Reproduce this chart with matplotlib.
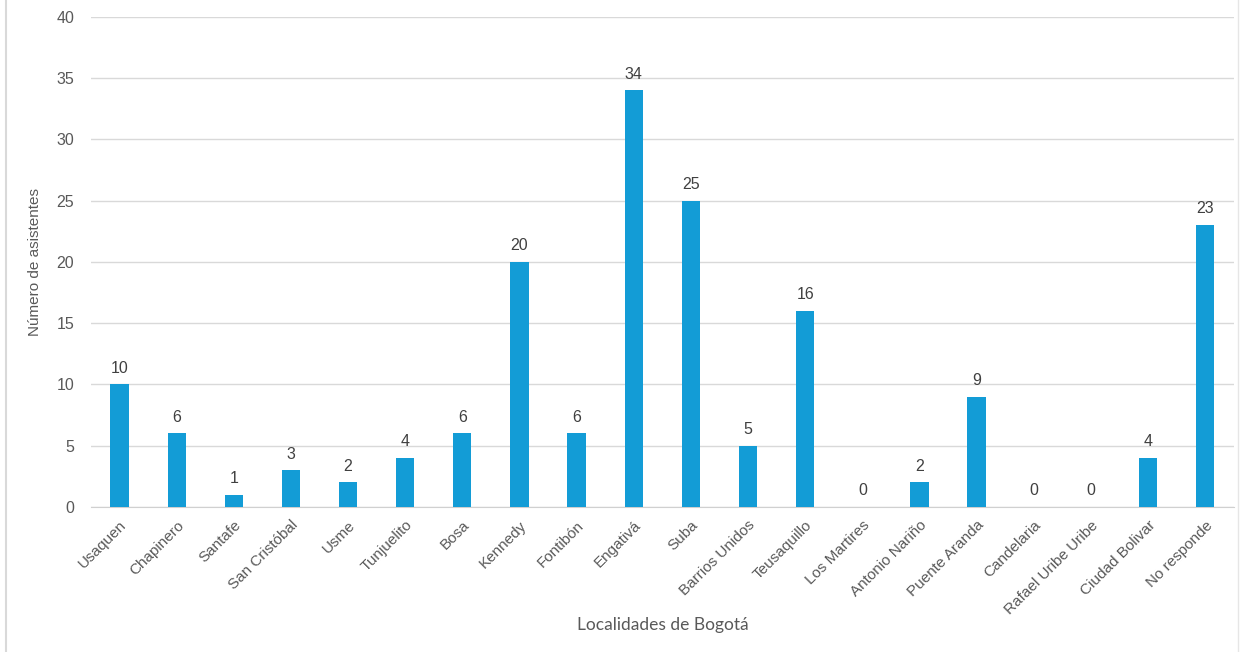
import matplotlib
matplotlib.use("Agg")
import matplotlib.pyplot as plt
from matplotlib.lines import Line2D

categories = ["Usaquen", "Chapinero", "Santafe", "San Cristóbal", "Usme", "Tunjuelito",
              "Bosa", "Kennedy", "Fontibón", "Engativá", "Suba", "Barrios Unidos",
              "Teusaquillo", "Los Martires", "Antonio Nariño", "Puente Aranda",
              "Candelaria", "Rafael Uribe Uribe", "Ciudad Bolivar", "No responde"]
values = [10, 6, 1, 3, 2, 4, 6, 20, 6, 34, 25, 5, 16, 0, 2, 9, 0, 0, 4, 23]
yticks = [0, 5, 10, 15, 20, 25, 30, 35, 40]

plt.rcParams['font.family'] = ['Liberation Sans', 'DejaVu Sans']

fig = plt.figure(figsize=(12.53, 6.52), dpi=100)
ax = fig.add_axes([0.0726, 0.2224, 0.912, 0.752])

x = list(range(len(categories)))
bars = ax.bar(x, values, width=0.32, color='#139CD6', zorder=3)
for xi, v in zip(x, values):
    ax.text(xi, v + 0.7, str(v), ha='center', va='bottom', fontsize=11.5, color='#404040')

ax.set_xlim(-0.5, len(categories) - 0.5)
ax.set_ylim(0, 40)
ax.set_yticks(yticks)
ax.yaxis.grid(True, color='#d9d9d9', linewidth=1, zorder=0)
for s in ['top', 'right', 'left']:
    ax.spines[s].set_visible(False)
ax.spines['bottom'].set_color('#d0d0d0')
ax.tick_params(axis='both', length=0, colors='#595959', labelsize=11.5)
ax.tick_params(axis='y', pad=12)
ax.set_xticks(x)
ax.set_xticklabels(categories, rotation=45, ha='right', rotation_mode='anchor', fontsize=11)
ax.tick_params(axis='x', pad=8)

ax.set_ylabel("Número de asistentes", fontsize=11, color='#595959')
ax.yaxis.set_label_coords(-0.043, 0.5)
fig.text(0.529, 0.041, "Localidades de Bogotá", fontsize=12.5, color='#595959',
         family='Lato', ha='center', va='center')

fig.add_artist(Line2D([0.005, 0.005], [0, 1], transform=fig.transFigure, color='#d9d9d9', lw=1.5))
fig.add_artist(Line2D([0.988, 0.988], [0, 1], transform=fig.transFigure, color='#e6e6e6', lw=1.0))

fig.savefig("out.png", dpi=100)
